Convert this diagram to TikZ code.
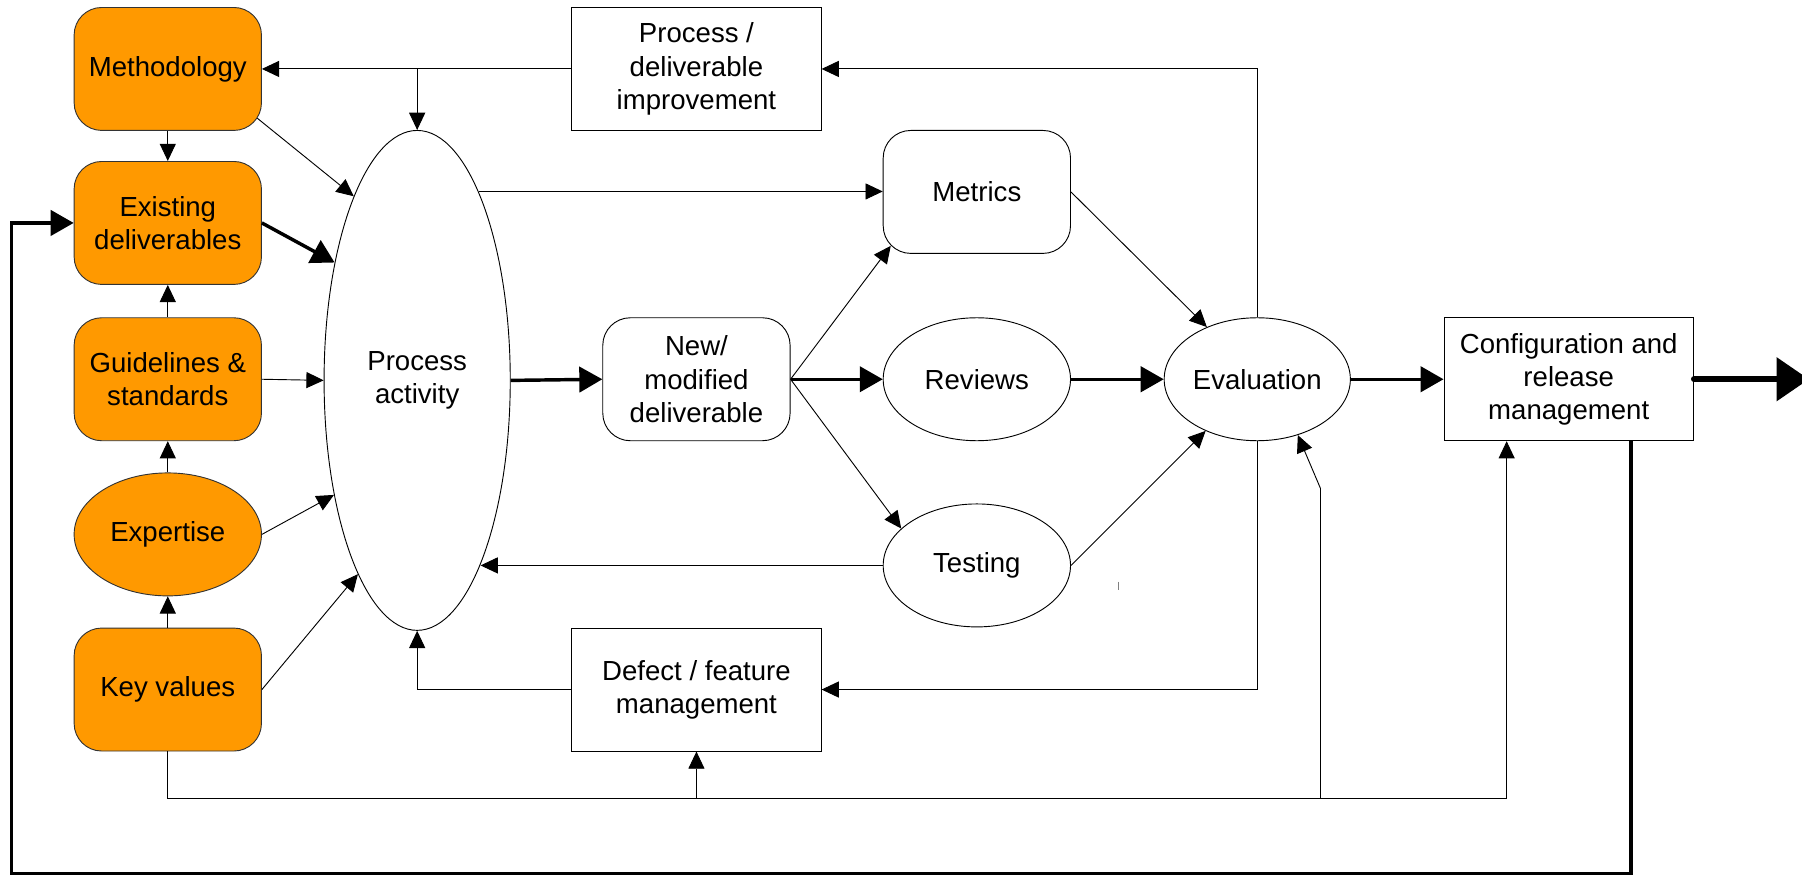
\documentclass[tikz,border=0pt]{standalone}
\usepackage{fontspec}
\setmainfont{Liberation Sans}
\usetikzlibrary{shapes.geometric,arrows.meta,calc}

\begin{document}
\begin{tikzpicture}[x=1pt,y=-1pt,line width=0.8pt,
    every node/.style={font=\fontsize{24}{29}\selectfont,align=center,inner sep=0pt},
    box/.style={draw,rectangle,minimum width=217pt,minimum height=107pt},
    rbox/.style={draw,rectangle,rounded corners=24pt,minimum width=163pt,minimum height=107pt},
    oval/.style={draw,ellipse,minimum width=163pt,minimum height=107pt},
    input/.style={fill=inputcolor,draw=black!80},
    arr/.style={-{Triangle[length=15pt,width=14pt]}},
    bigarr/.style={line width=3pt,-{Triangle[length=20pt,width=22pt]}}]

    \colorlet{inputcolor}{orange!80!yellow}

    \useasboundingbox (0,0) rectangle (1568,762);

    \node[rbox,input] (meth) at (146,60) {Methodology};
    \node[rbox,input] (exist) at (146,194) {Existing\\deliverables};
    \node[rbox,input] (guide) at (146,330) {Guidelines \&\\standards};
    \node[oval,input] (exper) at (146,465) {Expertise};
    \node[rbox,input] (keyv) at (146,600) {Key values};

    \node[oval,minimum width=162pt,minimum height=435pt] (proc) at (363,331) {Process\\activity};

    \node[box] (pdi) at (606,60) {Process /\\deliverable\\improvement};
    \node[rbox] (newd) at (606,330) {New/\\modified\\deliverable};
    \node[box] (defe) at (606,600) {Defect / feature\\management};

    \node[rbox] (metr) at (850,167) {Metrics};
    \node[oval] (rev) at (850,330) {Reviews};
    \node[oval] (test) at (850,492) {Testing};

    \node[oval,minimum width=162pt] (eval) at (1094,330) {Evaluation};
    \node[box] (conf) at (1365,330) {Configuration and\\release\\management};

    \coordinate (bus) at (1311,695);
    \coordinate (kink) at (1149,425);
    \coordinate (loop) at (10,760);
    \coordinate (out) at (1574,330);

    \draw[arr] (pdi.west) -- (meth.east);
    \draw[arr] (pdi.west -| proc.north) -- (proc.north);
    \draw[arr] (meth.south) -- (exist.north);
    \draw[arr] (guide.north) -- (exist.south);
    \draw[arr] (exper.north) -- (guide.south);
    \draw[arr] (keyv.north) -- (exper.south);

    \draw[arr] ($(meth.south east)+(-4,-11)$) -- (proc.109);
    \draw[bigarr] (exist.east) -- (proc.125);
    \draw[arr] (guide.east) -- (proc.west);
    \draw[arr] (exper.east) -- (proc.234);
    \draw[arr] (keyv.east) -- (proc.253);

    \draw[arr] (proc.72) -- (proc.72 -| metr.west);
    \draw[bigarr] (proc.east) -- (newd.west);
    \draw[arr] (newd.east) -- ($(metr.south west)+(7,-7)$);
    \draw[bigarr] (newd.east) -- (rev.west);
    \draw[arr] (newd.east) -- (test.154);

    \draw[arr] (metr.east) -- (eval.134);
    \draw[bigarr] (rev.east) -- (eval.west);
    \draw[arr] (test.east) -- (eval.225);
    \draw[bigarr] (eval.east) -- (conf.west);
    \draw[line width=5pt,line cap=round,-{Triangle[length=28pt,width=37pt]}] (conf.east) -- (out);

    \draw[arr] (eval.north) |- (pdi.east);
    \draw[arr] (eval.south) |- (defe.east);
    \draw[arr] (defe.west) -| (proc.south);
    \draw[arr] (test.west) -- (test.west -| proc.-71);

    \draw[arr] (keyv.south) |- (bus) -- (conf.south -| bus);
    \draw[arr] (defe.south |- bus) -- (defe.south);
    \draw[arr] (kink |- bus) -- (kink) -- (eval.-54);
    \draw[bigarr] ($(conf.south)+(54,0)$) |- (loop) |- (exist.west);

    \draw[gray,line width=1.2pt] (973,506) -- (973,513);

\end{tikzpicture}
\end{document}
